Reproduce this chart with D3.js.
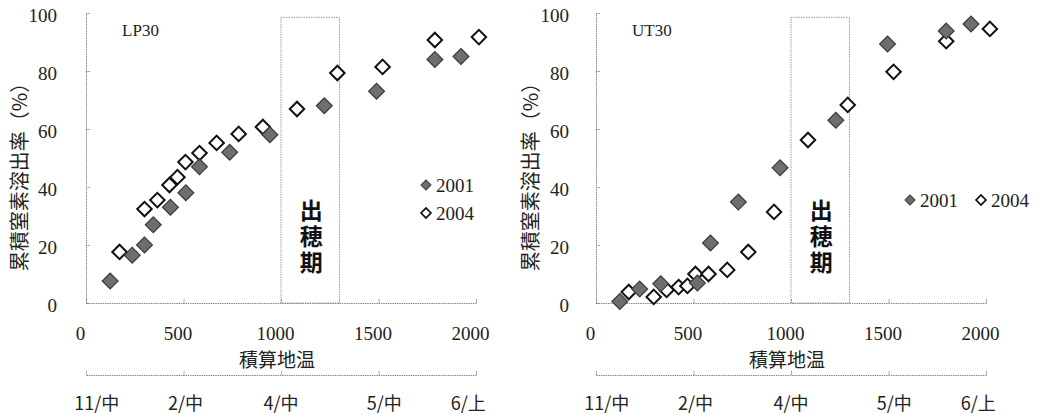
<!DOCTYPE html>
<html>
<head>
<meta charset="utf-8">
<script src="https://cdn.jsdelivr.net/npm/d3@7"></script>
<style>
  body { margin: 0; background: #fff; }
  svg { display: block; }
</style>
</head>
<body>
<svg id="chart" width="1037" height="415"></svg>
<script>
// 積算地温 (x) vs 累積窒素溶出率 % (y)
const lp2001X = [124, 237, 300, 345, 433, 512, 582, 737, 943, 1222, 1490, 1789, 1923]
const lp2001Y = [7.6, 16.5, 20, 27, 33, 38, 47, 52, 58, 68, 73, 84, 85]
const lp2004X = [172, 300, 366, 428, 469, 510, 582, 670, 783, 907, 1082, 1289, 1521, 1789, 2015]
const lp2004Y = [17.6, 32.4, 35.5, 40.7, 43.4, 48.6, 51.7, 55.2, 58.3, 60.7, 66.9, 79.3, 81.4, 90.7, 91.7]

const ut2001X = [122, 224, 332, 520, 587, 730, 944, 1230, 1495, 1796, 1923]
const ut2001Y = [0.5, 4.8, 6.6, 6.9, 20.7, 34.8, 46.6, 63, 89.3, 93.8, 96.2]
const ut2004X = [168, 296, 362, 424, 469, 510, 577, 673, 781, 913, 1087, 1291, 1526, 1796, 2020]
const ut2004Y = [3.8, 2.1, 4.5, 5.5, 5.9, 10, 10, 11.4, 17.6, 31.4, 56.2, 68.3, 79.7, 90.3, 94.5]

const xTicks = [0, 500, 1000, 1500, 2000]
const yTicks = [0, 20, 40, 60, 80, 100]
const dateLabels = ['11/中', '2/中', '4/中', '5/中', '6/上']
const datePos = [55, 510, 1000, 1530, 1960]
const headingStart = 1000
const headingEnd = 1300
const seriesNames = ['2001', '2004']

const SERIF = '"Liberation Serif", "DejaVu Serif", serif'
const JP = '"Noto Sans CJK JP", sans-serif'

const svg = d3.select('#chart')
const diamond = d3.symbol().type(d3.symbolSquare)

function zip(xs, ys) {
  return xs.map((x, i) => ({ x: x, y: ys[i] }))
}

function panel(opts) {
  const x = d3.scaleLinear().domain([0, 2000]).range([opts.left, opts.left + 390])
  const y = d3.scaleLinear().domain([0, 100]).range([303, 13])
  const g = svg.append('g')

  // heading period box
  g.append('rect')
    .attr('x', x(headingStart))
    .attr('y', y(98.5))
    .attr('width', x(headingEnd) - x(headingStart))
    .attr('height', y(0) - y(98.5))
    .attr('fill', 'none')
    .attr('stroke', '#999')
    .attr('stroke-dasharray', '1.5,1')

  g.append('text')
    .attr('x', (x(headingStart) + x(headingEnd)) / 2 + 1)
    .attr('y', 238)
    .attr('text-anchor', 'middle')
    .style('writing-mode', 'vertical-rl')
    .style('font-family', JP)
    .style('font-size', '23px')
    .style('font-weight', 'bold')
    .style('letter-spacing', '3px')
    .attr('fill', '#111')
    .text('出穂期')

  // y axis
  const yAxis = g.append('g')
    .attr('transform', `translate(${opts.left},0)`)
    .call(d3.axisLeft(y).tickValues(yTicks).tickSizeInner(-4).tickSizeOuter(0).tickPadding(opts.yPad))
  yAxis.selectAll('text')
    .style('font-family', SERIF).style('font-size', '19px')
    .attr('fill', '#222').attr('dy', '0.45em')

  // x axis
  const xAxis = g.append('g')
    .attr('transform', 'translate(0,303)')
    .call(d3.axisBottom(x).tickValues(xTicks).tickFormat(d3.format('d')).tickSizeInner(-4).tickSizeOuter(0).tickPadding(24))
  xAxis.selectAll('text')
    .style('font-family', SERIF).style('font-size', '19px')
    .attr('fill', '#222').attr('dx', -6)

  // date axis
  g.append('g')
    .attr('transform', 'translate(0,375)')
    .call(d3.axisBottom(x).tickValues(xTicks).tickFormat('').tickSizeInner(-4).tickSizeOuter(0))
  g.selectAll('.dates')
    .data(dateLabels)
    .enter()
    .append('text')
    .attr('x', (d, i) => x(datePos[i]))
    .attr('y', 410)
    .attr('text-anchor', 'middle')
    .style('font-family', JP)
    .style('font-size', '18px')
    .attr('fill', '#222')
    .text(d => d)

  g.selectAll('.domain, .tick line')
    .attr('stroke', '#888')
    .attr('stroke-dasharray', '1.5,0.8')

  g.append('text')
    .attr('x', x(1000) - 4)
    .attr('y', 367)
    .attr('text-anchor', 'middle')
    .style('font-family', JP)
    .style('font-size', '19px')
    .attr('fill', '#222')
    .text('積算地温')

  g.append('text')
    .attr('transform', `translate(${opts.titleX},172) rotate(-90)`)
    .attr('text-anchor', 'middle')
    .style('font-family', JP)
    .style('font-size', '20px')
    .attr('fill', '#222')
    .text('累積窒素溶出率（%）')

  g.append('text')
    .attr('x', x(185))
    .attr('y', 36)
    .style('font-family', SERIF)
    .style('font-size', '17px')
    .attr('fill', '#222')
    .text(opts.name)

  // points
  g.selectAll('.open')
    .data(opts.open)
    .enter()
    .append('path')
    .attr('d', diamond.size(105))
    .attr('transform', d => `translate(${x(d.x)},${y(d.y)}) rotate(45)`)
    .attr('fill', '#fff')
    .attr('stroke', '#111')
    .attr('stroke-width', 2)

  g.selectAll('.filled')
    .data(opts.filled)
    .enter()
    .append('path')
    .attr('d', diamond.size(125))
    .attr('transform', d => `translate(${x(d.x)},${y(d.y)}) rotate(45)`)
    .attr('fill', '#6e6e6e')
    .attr('stroke', '#3a3a3a')
    .attr('stroke-width', 1.2)

  // legend
  opts.legend.forEach((p, i) => {
    g.append('path')
      .attr('d', diamond.size(50))
      .attr('transform', `translate(${p[0]},${p[1]}) rotate(45)`)
      .attr('fill', i === 0 ? '#6e6e6e' : '#fff')
      .attr('stroke', i === 0 ? '#3a3a3a' : '#111')
      .attr('stroke-width', i === 0 ? 1 : 1.6)
    g.append('text')
      .attr('x', p[0] + 10)
      .attr('y', p[1] + 7)
      .style('font-family', SERIF)
      .style('font-size', '19px')
      .attr('fill', '#222')
      .text(seriesNames[i])
  })
}

panel({
  left: 86, yPad: 29, titleX: 27, name: 'LP30',
  filled: zip(lp2001X, lp2001Y), open: zip(lp2004X, lp2004Y),
  legend: [[426, 185], [426, 213]]
})

panel({
  left: 596, yPad: 27, titleX: 538, name: 'UT30',
  filled: zip(ut2001X, ut2001Y), open: zip(ut2004X, ut2004Y),
  legend: [[910, 200], [981, 200]]
})
</script>
</body>
</html>
